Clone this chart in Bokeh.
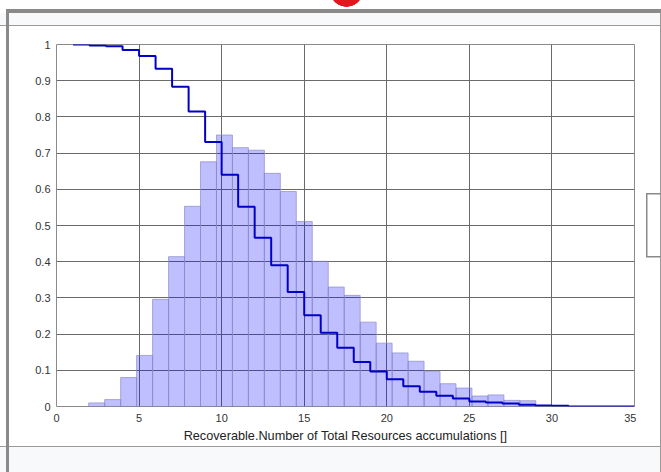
from bokeh.plotting import figure
from bokeh.layouts import column, row
from bokeh.models import Range1d, FixedTicker, NumeralTickFormatter, ColumnDataSource, Div
from bokeh.embed import file_html
from bokeh.resources import INLINE

# ---------------- data ----------------
bin_start = 1.95
bin_width = 0.967
hist_heights = [0.010, 0.019, 0.080, 0.141, 0.296, 0.414, 0.553, 0.676, 0.750, 0.715,
                0.708, 0.644, 0.594, 0.511, 0.401, 0.330, 0.307, 0.233, 0.175, 0.148,
                0.125, 0.097, 0.063, 0.051, 0.029, 0.032, 0.017, 0.016]
cdf_x = [1, 2, 3, 4, 5, 6, 7, 8, 9, 10, 11, 12, 13, 14, 15, 16, 17, 18, 19, 20,
         21, 22, 23, 24, 25, 26, 27, 28, 29, 30, 31, 32, 33, 34, 35]
cdf_y = [1.000, 0.997, 0.995, 0.985, 0.968, 0.933, 0.883, 0.815, 0.731, 0.640,
         0.552, 0.466, 0.390, 0.316, 0.252, 0.204, 0.162, 0.123, 0.097, 0.075,
         0.056, 0.041, 0.030, 0.022, 0.014, 0.011, 0.008, 0.005, 0.003, 0.002,
         0.0, 0.0, 0.0, 0.0, 0.0]
x_ticks = [0, 5, 10, 15, 20, 25, 30, 35]
y_ticks = [0.0, 0.1, 0.2, 0.3, 0.4, 0.5, 0.6, 0.7, 0.8, 0.9, 1.0]
x_label = "Recoverable.Number of Total Resources accumulations []"

# ---------------- page geometry ----------------
PAGE_W = 661
HEAD_H = 26
MID_H = 420
FOOT_H = 26
PAD_W = 6
BAND_W = 3
FIG_W = 627
RIGHT_W = PAGE_W - PAD_W - BAND_W - FIG_W

FRAME_GRAY = "#8a8a8a"
LINE_GRAY = "#9a9a9a"
PANEL = "#f8f9fa"


def solid(color, x, y, w, h):
    return f"linear-gradient({color},{color}) {x}px {y}px / {w}px {h}px no-repeat"


# ---------------- figure ----------------
p = figure(width=FIG_W, height=MID_H, output_backend="svg", toolbar_location=None,
           x_range=Range1d(0, 35), y_range=Range1d(0, 1),
           min_border_left=47, min_border_right=2, min_border_top=18, min_border_bottom=40,
           margin=0)
p.background_fill_color = "white"
p.border_fill_color = "white"
p.outline_line_color = FRAME_GRAY
p.outline_line_width = 1

lefts = [bin_start + i * bin_width for i in range(len(hist_heights))]
rights = [l + bin_width for l in lefts]
src = ColumnDataSource(dict(left=lefts, right=rights, top=hist_heights,
                            bottom=[0] * len(hist_heights)))
p.quad(left="left", right="right", top="top", bottom="bottom", source=src,
       fill_color="#0000ff", fill_alpha=0.25, line_color="#8c8cc8", line_alpha=0.7, line_width=1)

p.step(cdf_x, cdf_y, mode="after", line_color="#0000c8", line_width=2)

for ax in (p.xaxis[0], p.yaxis[0]):
    ax.axis_line_color = None
    ax.major_tick_line_color = None
    ax.minor_tick_line_color = None
    ax.major_tick_out = 0
    ax.major_tick_in = 0
    ax.minor_tick_out = 0
    ax.minor_tick_in = 0
    ax.major_label_text_font = "Liberation Sans"
    ax.major_label_text_font_size = "11px"
    ax.major_label_text_color = "#333333"
p.xaxis.major_label_standoff = 7
p.yaxis.major_label_standoff = 6
p.xaxis.ticker = FixedTicker(ticks=x_ticks)
p.yaxis.ticker = FixedTicker(ticks=y_ticks)
p.yaxis.formatter = NumeralTickFormatter(format="0.[0]")
p.xaxis.axis_label = x_label
p.xaxis.axis_label_text_font = "Liberation Sans"
p.xaxis.axis_label_text_font_size = "12.7px"
p.xaxis.axis_label_text_font_style = "normal"
p.xaxis.axis_label_text_color = "#222222"
p.xaxis.axis_label_standoff = 4

for g in (p.xgrid[0], p.ygrid[0]):
    g.grid_line_color = "#6a6a6a"
    g.grid_line_width = 1
    g.grid_line_alpha = 1.0

# ---------------- surrounding panel (decoration) ----------------
head_bg = ", ".join([
    "radial-gradient(circle at 346.5px -10px, #e3161d 16.5px, rgba(0,0,0,0) 17px)",
    solid(FRAME_GRAY, 6, 8.5, 3, HEAD_H),
    solid(FRAME_GRAY, 6, 8.5, PAGE_W, 4),
    solid(LINE_GRAY, 0, 24.5, PAGE_W, 1.2),
    solid(LINE_GRAY, 659.5, 12, 1.5, HEAD_H),
    solid(PANEL, 0, 12.5, PAGE_W, 12),
    "#ffffff",
])
head = Div(text="", width=PAGE_W, height=HEAD_H, margin=0,
           styles={"background": head_bg})

pad = Div(text="", width=PAD_W, height=MID_H, margin=0,
          styles={"background-color": "#ffffff"})
band = Div(text="", width=BAND_W, height=MID_H, margin=0,
           styles={"background-color": FRAME_GRAY})

bx, by, bw, bh = 645.7 - (PAGE_W - RIGHT_W), 193.3 - HEAD_H, 16, 64
right = Div(text="", width=RIGHT_W, height=MID_H, margin=0,
            styles={"background": ", ".join([
                solid(FRAME_GRAY, bx, by, bw, 1.5),
                solid(FRAME_GRAY, bx, by + bh - 1.5, bw, 1.5),
                solid(FRAME_GRAY, bx, by, 1.5, bh),
                solid(LINE_GRAY, 660 - (PAGE_W - RIGHT_W) - 0.5, 0, 1.5, MID_H),
                "#ffffff"])})

foot = Div(text="", width=PAGE_W, height=FOOT_H, margin=0,
           styles={"background": ", ".join([
               solid(FRAME_GRAY, 6, 0, 3, FOOT_H),
               solid(LINE_GRAY, 0, 0.3, PAGE_W, 1.2),
               solid(LINE_GRAY, 659.5, 0, 1.5, FOOT_H),
               solid(PANEL, 0, 0, PAGE_W, FOOT_H)])})

layout = column(head, row(pad, band, p, right, spacing=0, margin=0), foot,
                spacing=0, margin=0)

open("out.html", "w").write(file_html(layout, INLINE))
